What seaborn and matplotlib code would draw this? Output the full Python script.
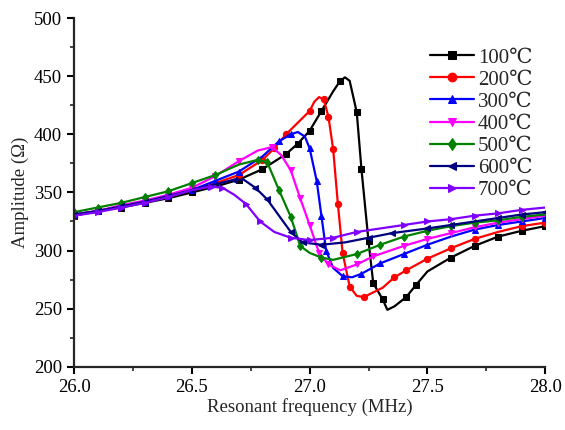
import matplotlib
matplotlib.use("Agg")
import matplotlib.pyplot as plt
import seaborn as sns
from matplotlib.ticker import MultipleLocator

# resonant frequency (MHz) and amplitude (Ohm) for each annealing temperature
x_100 = [26.0, 26.05, 26.1, 26.2, 26.3, 26.4, 26.5, 26.6, 26.7, 26.8, 26.9, 26.95, 27.0, 27.05,
         27.1, 27.13, 27.15, 27.17, 27.2, 27.22, 27.25, 27.27, 27.31, 27.33, 27.36, 27.41, 27.45,
         27.5, 27.6, 27.7, 27.8, 27.9, 28.0]
y_100 = [330, 332, 334, 337, 341, 345, 350, 355, 361, 370, 383, 392, 403, 420,
         437, 446, 449, 446, 419, 370, 308, 272, 258, 249, 252, 260, 270,
         282, 294, 304, 312, 317, 321]

x_200 = [26.0, 26.1, 26.2, 26.3, 26.4, 26.5, 26.6, 26.7, 26.8, 26.85, 26.9, 26.95, 27.0, 27.02,
         27.04, 27.06, 27.08, 27.1, 27.12, 27.14, 27.17, 27.2, 27.23, 27.27, 27.31, 27.36, 27.41,
         27.5, 27.6, 27.7, 27.8, 27.9, 28.0]
y_200 = [330, 334, 338, 342, 347, 352, 358, 365, 378, 388, 400, 410, 420, 428,
         432, 430, 415, 387, 340, 298, 269, 261, 260, 264, 268, 277, 283,
         293, 302, 310, 316, 321, 324]

x_300 = [26.0, 26.1, 26.2, 26.3, 26.4, 26.5, 26.6, 26.7, 26.8, 26.87, 26.92, 26.95, 26.98, 27.0,
         27.03, 27.05, 27.07, 27.1, 27.14, 27.18, 27.22, 27.3, 27.4, 27.5, 27.6, 27.7, 27.8,
         27.9, 28.0]
y_300 = [331, 334, 338, 342, 347, 352, 360, 368, 381, 394, 400, 402, 398, 388,
         360, 330, 300, 285, 278, 277, 280, 289, 297, 305, 312, 318, 322,
         325, 328]

x_400 = [26.0, 26.1, 26.2, 26.3, 26.4, 26.5, 26.6, 26.7, 26.78, 26.84, 26.88, 26.92, 26.96, 27.0,
         27.04, 27.08, 27.13, 27.2, 27.27, 27.4, 27.5, 27.6, 27.7, 27.8, 27.9, 28.0]
y_400 = [331, 334, 339, 343, 348, 354, 364, 377, 386, 389, 382, 369, 345, 322,
         298, 288, 283, 288, 295, 304, 310, 315, 320, 324, 327, 330]

x_500 = [26.0, 26.1, 26.2, 26.3, 26.4, 26.5, 26.6, 26.7, 26.78, 26.82, 26.87, 26.92, 26.96, 27.0,
         27.05, 27.1, 27.2, 27.3, 27.4, 27.5, 27.6, 27.7, 27.8, 27.9, 28.0]
y_500 = [333, 337, 341, 346, 351, 358, 365, 374, 378, 376, 352, 329, 304, 298,
         294, 292, 297, 305, 312, 317, 321, 324, 326, 329, 331]

x_600 = [26.0, 26.1, 26.2, 26.3, 26.4, 26.5, 26.6, 26.68, 26.72, 26.77, 26.82, 26.87, 26.92, 26.97,
         27.05, 27.15, 27.25, 27.35, 27.5, 27.6, 27.7, 27.8, 27.9, 28.0]
y_600 = [331, 334, 338, 342, 347, 352, 357, 361, 361, 354, 344, 330, 316, 307,
         305, 307, 311, 315, 319, 322, 325, 328, 331, 333]

x_700 = [26.0, 26.1, 26.2, 26.3, 26.4, 26.5, 26.58, 26.63, 26.68, 26.73, 26.79, 26.85, 26.92, 27.0,
         27.1, 27.2, 27.3, 27.4, 27.5, 27.6, 27.7, 27.8, 27.9, 28.0]
y_700 = [330, 333, 337, 341, 346, 352, 355, 354, 348, 340, 325, 316, 311, 309,
         311, 316, 319, 322, 325, 327, 330, 332, 335, 337]

labels = ["100℃", "200℃", "300℃", "400℃", "500℃", "600℃", "700℃"]
xs = [x_100, x_200, x_300, x_400, x_500, x_600, x_700]
ys = [y_100, y_200, y_300, y_400, y_500, y_600, y_700]
colors = ["#000000", "#ff0000", "#0000ff", "#ff00ff", "#008000", "#000080", "#8000ff"]
markers = ["s", "o", "^", "v", "d", "<", ">"]

sns.set_style("ticks")
plt.rcParams["font.family"] = ["Liberation Serif", "DejaVu Serif"]

fig = plt.figure(figsize=(5.65, 4.3), dpi=100)
ax = fig.add_axes([0.131, 0.147, 0.834, 0.811])

for x, y, lab, c, m in zip(xs, ys, labels, colors, markers):
    sns.lineplot(x=x, y=y, ax=ax, color=c, marker=m, markersize=4.5, markeredgecolor=c,
                 linewidth=1.6, markevery=0.045, label=lab, sort=False)

ax.set_xlim(26.0, 28.0)
ax.set_ylim(200, 500)
ax.xaxis.set_major_locator(MultipleLocator(0.5))
ax.xaxis.set_minor_locator(MultipleLocator(0.25))
ax.yaxis.set_major_locator(MultipleLocator(50))
ax.yaxis.set_minor_locator(MultipleLocator(25))
ax.xaxis.set_major_formatter(matplotlib.ticker.FormatStrFormatter("%.1f"))
ax.tick_params(which="major", direction="out", length=5, width=1.5, labelsize=13.5, colors="black")
ax.tick_params(which="minor", direction="out", length=3, width=1.2)
for s in ["left", "bottom"]:
    ax.spines[s].set_linewidth(1.6)
sns.despine(ax=ax)

ax.set_xlabel("Resonant frequency (MHz)", fontsize=13.5, labelpad=2)
ax.set_ylabel("Amplitude (Ω)", fontsize=13.5, labelpad=4)

ax.legend(loc="upper right", bbox_to_anchor=(1.0, 0.95), frameon=False, fontsize=15,
          handlelength=2.1, labelspacing=0.12, handletextpad=0.2, borderaxespad=0.2,
          markerscale=1.4)

fig.savefig("out.png", dpi=100)
